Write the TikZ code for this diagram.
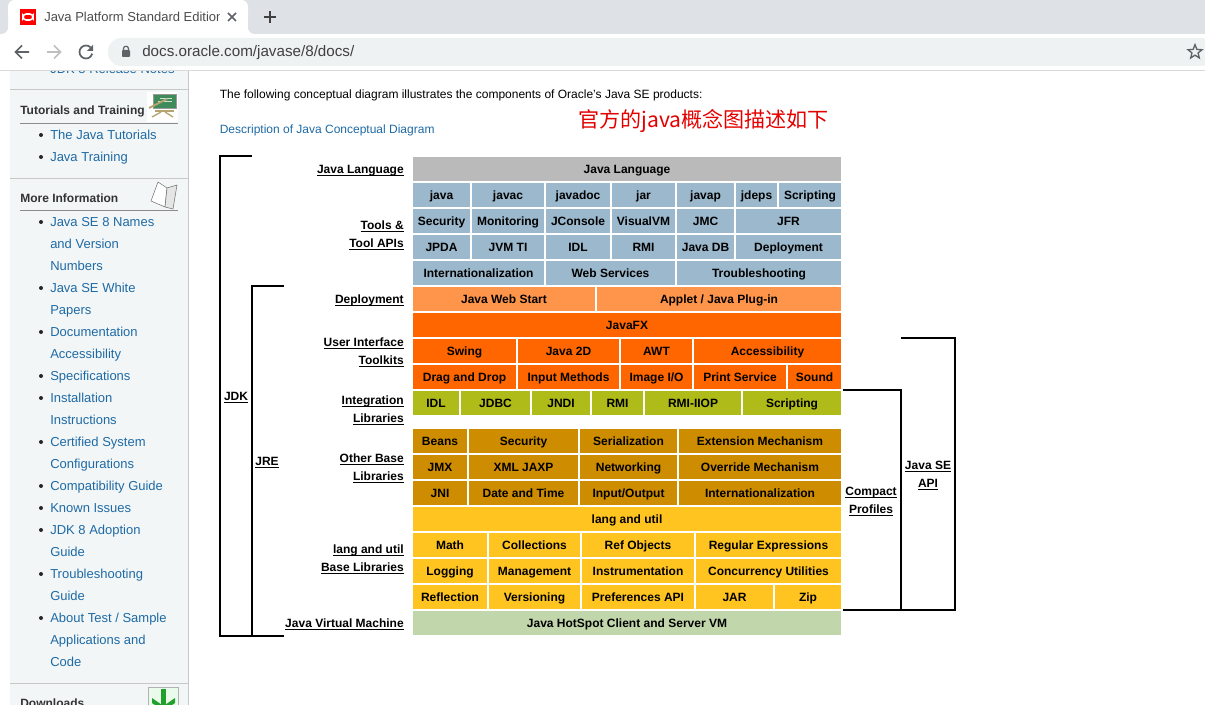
\documentclass[tikz,border=0pt]{standalone}
\usepackage{fontspec}
\setmainfont{Liberation Sans}
\newfontfamily\cjkfont{Noto Sans CJK SC}
\usetikzlibrary{shapes.geometric}
\definecolor{toolblue}{HTML}{9BB8CC}
\definecolor{deploy}{HTML}{FF954A}
\definecolor{uiorange}{HTML}{FF6600}
\definecolor{integ}{HTML}{AEBB18}
\definecolor{otherbase}{HTML}{CE8C00}
\definecolor{langbase}{HTML}{FFC41F}
\definecolor{hotspot}{HTML}{C1D6AB}
\definecolor{sidebg}{HTML}{F2F6F7}
\definecolor{sideline}{HTML}{C8C8C8}
\definecolor{sidelink}{HTML}{1F6AA5}
\definecolor{chrome}{HTML}{DEE1E6}
\definecolor{pill}{HTML}{EEF2F3}
\definecolor{icongray}{HTML}{5F6368}
\definecolor{boardgreen}{HTML}{3F8C5A}
\definecolor{boardwood}{HTML}{B5A470}
\definecolor{leafgreen}{HTML}{22A02C}
\tikzset{
  cell/.style={inner sep=0pt,font=\fontsize{9}{11}\bfseries,text height=8.5pt,text depth=2pt,text=black},
  sidelabel/.style={inner sep=0pt,font=\fontsize{9}{13.5}\bfseries\selectfont,text=black},
  bracket/.style={draw=black,line width=1.5pt,line cap=butt,line join=miter},
  link/.style={inner sep=0pt,anchor=west,font=\fontsize{9.75}{12}\selectfont,text=sidelink,text height=10pt,text depth=2pt},
  sidehead/.style={inner sep=0pt,anchor=west,font=\fontsize{9}{12}\bfseries\selectfont,text=black!80,text height=8.5pt,text depth=2pt}
}
\newcommand{\cellrow}[3]{% top of the row, colour, name/left/right/text
  \foreach \nm/\xa/\xb/\lbl in {#3}
    \node[cell,fill=#2,minimum height=18pt,minimum width={(\xb-\xa)*0.75pt}] (\nm) at ({(\xa+\xb)/2},#1+12) {\lbl};
}
\newcommand{\ul}[1]{\rlap{\underline{\smash{#1}}}\phantom{#1}\vphantom{Ag}}
\begin{document}
\begin{tikzpicture}[x=0.75pt,y=-0.75pt]
\useasboundingbox (0,0) rectangle (1205,705);
\clip (0,0) rectangle (1205,705);
\fill[white] (0,0) rectangle (1205,705);
% side bar
\fill[sidebg] (10,60) rectangle (188,705);
\draw[sideline] (188.5,60) -- (188.5,705);
\foreach \yy in {89,178,683} \draw[sideline] (10,\yy) -- (188,\yy);
\foreach \yy in {123,210} \draw[black!45] (20,\yy) -- (178,\yy);
\node[sidehead] (tutorials) at (20,110) {Tutorials and Training};
\node[sidehead] (moreinfo) at (20,198) {More Information};
\node[sidehead] (downloads) at (20,703) {Downloads};
\node[link] (relnotes) at (50,68) {JDK 8 Release Notes};
\foreach \nm/\yy/\lbl in {l1/134/The Java Tutorials,l2/156/Java Training,l3/221/Java SE 8 Names,
  l4/243/and Version,l5/265/Numbers,l6/287/Java SE White,l7/309/Papers,l8/331/Documentation,
  l9/353/Accessibility,l10/375/Specifications,l11/397/Installation,l12/419/Instructions,
  l13/441/Certified System,l14/463/Configurations,l15/485/Compatibility Guide,l16/507/Known Issues,
  l17/529/JDK 8 Adoption,l18/551/Guide,l19/573/Troubleshooting,l20/595/Guide,
  l21/617/{About Test / Sample},l22/639/Applications and,l23/661/Code}
  \node[link] (\nm) at (50,\yy) {\lbl};
\foreach \yy in {134,156,221,287,331,375,397,441,485,507,529,573,617}
  \fill[black!85] (41,\yy+1) circle (2);
% chalk board
\fill[white] (147,92) rectangle (178,122);
\fill[boardgreen] (153,94) rectangle (176,108);
\draw[black!40] (153,94) rectangle (176,108);
\draw[white!75!boardgreen] (160,98) -- (172,98) (158,101) -- (172,101);
\draw[boardwood,line width=1.5pt] (149,108) -- (167,99);
\draw[boardwood,line width=1.5pt] (155,111) -- (174,111);
\draw[boardwood,line width=1pt] (152,117) -- (161,112) (173,117) -- (165,112);
% book
\fill[white,draw=black!55,line join=round] (158,182) -- (167,188) -- (165,207) -- (151,201) -- cycle;
\fill[black!10,draw=black!55,line join=round] (167,188) -- (177,185) -- (173,209) -- (165,207) -- cycle;
% download
\fill[black!20!green!8!white] (148,687) rectangle (178,705);
\draw[black!30] (148,687) rectangle (178,705);
\fill[leafgreen] (161,689) rectangle (166,705);
\fill[leafgreen] (152,698) -- (163.5,706) -- (175,698) -- (175,703) -- (163.5,711) -- (152,703) -- cycle;
% browser
\fill[white] (0,0) rectangle (1205,70);
\fill[chrome,rounded corners=5pt] (-10,-10) rectangle (8,34);
\fill[chrome,rounded corners=5pt] (248,-10) rectangle (1215,34);
\fill[chrome] (8,0) rectangle (248,6);
\fill[white,rounded corners=5pt] (8,0) rectangle (248,20);
\draw[black!15] (0,70.5) -- (1205,70.5);
\fill[pill,rounded corners=10pt] (108,38) rectangle (1215,66);
\fill[red] (20,9) rectangle (36,25);
\draw[white,line width=1.2pt,rounded corners=2.4pt] (23,14) rectangle (33,20);
\begin{scope}
\clip (40,5) rectangle (219,30);
\node[inner sep=0pt,anchor=west,font=\fontsize{9.75}{12}\selectfont,text=black!70] (tabtitle) at (44,17) {Java Platform Standard Edition};
\end{scope}
\draw[icongray,line width=1.1pt] (228,13) -- (236,21) (236,13) -- (228,21);
\draw[black!75,line width=1.1pt] (264,17) -- (276,17) (270,11) -- (270,23);
\draw[icongray,line width=1.3pt] (29,52) -- (16,52) (22,45.5) -- (15.5,52) -- (22,58.5);
\draw[black!25,line width=1.3pt] (47,52) -- (60,52) (54,45.5) -- (60.5,52) -- (54,58.5);
\draw[icongray,line width=1.3pt] (90.6,47.4) arc[start angle=-45,end angle=-345,x radius=6.5,y radius=6.5];
\fill[icongray] (93,45) -- (93,51) -- (87,51) -- cycle;
\fill[icongray,rounded corners=0.6pt] (122,50) rectangle (130,57);
\draw[icongray,line width=0.9pt] (123.5,50) -- (123.5,48.5) .. controls (123.5,45.5) and (128.5,45.5) .. (128.5,48.5) -- (128.5,50);
\node[inner sep=0pt,anchor=west,font=\fontsize{11.4}{14}\selectfont,text=black!75] (address) at (142,53) {docs.oracle.com/javase/8/docs/};
\node[star,star points=5,star point ratio=2.3,draw=icongray,line width=1pt,minimum size=11pt,inner sep=0pt] (bookmark) at (1195,52) {};
% page text
\node[inner sep=0pt,anchor=west,font=\fontsize{9}{12}\selectfont] (intro) at (219.5,95) {The following conceptual diagram illustrates the components of Oracle's Java SE products:};
\node[inner sep=0pt,anchor=west,font=\fontsize{9}{12}\selectfont,text=sidelink] (desc) at (219.5,130) {Description of Java Conceptual Diagram};
\node[inner sep=0pt,anchor=west,text=red!90!black,font=\fontsize{15.8}{18}\cjkfont\selectfont] (note) at (578,121) {官方的java概念图描述如下};
% the boxes
\cellrow{157}{black!27}{lang/413/841/Java Language}
\cellrow{183}{toolblue}{java/413/470/java,javac/472/544/javac,javadoc/546/610/javadoc,jar/612/675/jar,javap/677/734/javap,jdeps/736/777/jdeps,toolscript/779/841/Scripting}
\cellrow{209}{toolblue}{toolsec/413/470/Security,monitor/472/544/Monitoring,jconsole/546/610/JConsole,visualvm/612/675/VisualVM,jmc/677/734/JMC,jfr/736/841/JFR}
\cellrow{235}{toolblue}{jpda/413/470/JPDA,jvmti/472/544/JVM TI,toolidl/546/610/IDL,toolrmi/612/675/RMI,javadb/677/734/Java DB,tooldeploy/736/841/Deployment}
\cellrow{261}{toolblue}{toolintl/413/544/Internationalization,websvc/546/675/Web Services,trouble/677/841/Troubleshooting}
\cellrow{287}{deploy}{webstart/413/595/Java Web Start,applet/597/841/{Applet / Java Plug-in}}
\cellrow{313}{uiorange}{javafx/413/841/JavaFX}
\cellrow{339}{uiorange}{swing/413/516/Swing,java2d/518/619/Java 2D,awt/621/692/AWT,access/694/841/Accessibility}
\cellrow{365}{uiorange}{dragdrop/413/516/Drag and Drop,inputm/518/619/Input Methods,imageio/621/692/{Image I/O},printsvc/694/786/Print Service,sound/788/841/Sound}
\cellrow{391}{integ}{idl/413/459/IDL,jdbc/461/530/JDBC,jndi/532/590/JNDI,rmi/592/643/RMI,rmiiiop/645/741/RMI-IIOP,script/743/841/Scripting}
\cellrow{429}{otherbase}{beans/413/467/Beans,security/469/578/Security,serial/580/677/Serialization,extmech/679/841/Extension Mechanism}
\cellrow{455}{otherbase}{jmx/413/467/JMX,xmljaxp/469/578/XML JAXP,network/580/677/Networking,override/679/841/Override Mechanism}
\cellrow{481}{otherbase}{jni/413/467/JNI,datetime/469/578/Date and Time,inout/580/677/{Input/Output},intl/679/841/Internationalization}
\cellrow{507}{langbase}{langutil/413/841/lang and util}
\cellrow{533}{langbase}{math/413/487/Math,collect/489/580/Collections,refobj/582/694/Ref Objects,regex/696/841/Regular Expressions}
\cellrow{559}{langbase}{logging/413/487/Logging,manage/489/580/Management,instr/582/694/Instrumentation,concur/696/841/Concurrency Utilities}
\cellrow{585}{langbase}{reflect/413/487/Reflection,version/489/580/Versioning,prefapi/582/694/Preferences API,jarfile/696/773/JAR,zip/775/841/Zip}
\cellrow{611}{hotspot}{vm/413/841/Java HotSpot Client and Server VM}
% labels
\node[sidelabel,anchor=east] (lblang) at (404,171) {\ul{Java Language}};
\node[sidelabel,anchor=east,align=right] (lbtools) at (404,235) {\ul{Tools \&}\\\ul{Tool APIs}};
\node[sidelabel,anchor=east] (lbdeploy) at (404,300) {\ul{Deployment}};
\node[sidelabel,anchor=east,align=right] (lbui) at (404,352) {\ul{User Interface}\\\ul{Toolkits}};
\node[sidelabel,anchor=east,align=right] (lbinteg) at (404,410) {\ul{Integration}\\\ul{Libraries}};
\node[sidelabel,anchor=east,align=right] (lbother) at (404,468) {\ul{Other Base}\\\ul{Libraries}};
\node[sidelabel,anchor=east,align=right] (lblangutil) at (404,559) {\ul{lang and util}\\\ul{Base Libraries}};
\node[sidelabel,anchor=east] (lbvm) at (404,624) {\ul{Java Virtual Machine}};
\node[sidelabel] (jdk) at (236,398) {\ul{JDK}};
\node[sidelabel] (jre) at (267,463) {\ul{JRE}};
\node[sidelabel,align=center] (compact) at (871,502) {\ul{Compact}\\\ul{Profiles}};
\node[sidelabel,align=center] (seapi) at (928,476) {\ul{Java SE}\\\ul{API}};
% the brackets
\draw[bracket] (252,156) -- (220,156) -- (220,636) -- (284,636);
\draw[bracket] (284,286) -- (252,286) -- (252,636);
\draw[bracket] (901,338) -- (955,338) -- (955,610) -- (843,610);
\draw[bracket] (843,390) -- (901,390) -- (901,610);
\end{tikzpicture}
\end{document}
